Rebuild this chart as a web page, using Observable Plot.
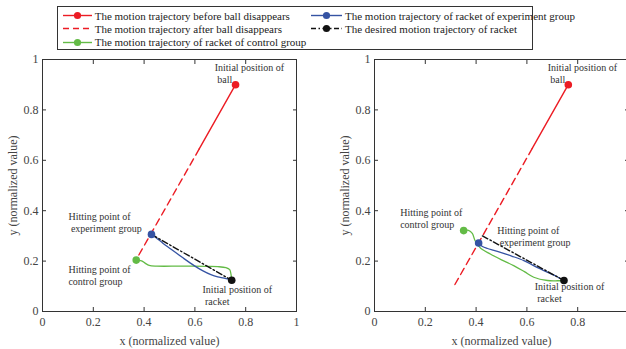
<!DOCTYPE html>
<html><head><meta charset="utf-8">
<script src="https://cdn.jsdelivr.net/npm/d3@7"></script>
<script src="https://cdn.jsdelivr.net/npm/@observablehq/plot@0.6"></script>
<style>
html,body{margin:0;padding:0;background:#fff;overflow:hidden;width:626px;height:349px}
#wrap{position:relative;width:626px;height:349px;overflow:hidden}
.p{position:absolute;top:0}
#legend{position:absolute;left:57px;top:6px;width:474px;height:42px;border:1px solid #333;background:#fff;font-family:"Liberation Serif","Times New Roman",serif;font-size:11px;color:#222}
.item{position:absolute;display:flex;align-items:center;height:13px;white-space:nowrap}
.item svg{margin-right:3px;overflow:visible}
</style></head><body><div id="wrap"></div>
<script>
// ---------- data ----------
const xTicks = [0, 0.2, 0.4, 0.6, 0.8, 1];
const yTicks = [0, 0.2, 0.4, 0.6, 0.8, 1];
const xTickLabelsLeft = ["0", "0.2", "0.4", "0.6", "0.8", "1"];
const xTickLabelsRight = ["0", "0.2", "0.4", "0.6", "0.8", ""];
const yTickLabels = ["0", "0.2", "0.4", "0.6", "0.8", "1"];

const legendLabels = [
  "The motion trajectory before ball disappears",
  "The motion trajectory after ball disappears",
  "The motion trajectory of racket of control group",
  "The motion trajectory of racket of experiment group",
  "The desired motion trajectory of racket"
];

// Left panel
const L_ballSolidX = [0.76, 0.617];
const L_ballSolidY = [0.90, 0.645];
const L_ballDashX = [0.617, 0.378];
const L_ballDashY = [0.645, 0.222];
const L_expX = [0.429, 0.446, 0.475, 0.505, 0.55, 0.597, 0.63, 0.663, 0.69, 0.715, 0.745];
const L_expY = [0.306, 0.294, 0.270, 0.248, 0.215, 0.182, 0.162, 0.146, 0.137, 0.132, 0.124];
const L_ctlX = [0.369, 0.39, 0.405, 0.42, 0.45, 0.55, 0.65, 0.69, 0.722, 0.737, 0.742, 0.745];
const L_ctlY = [0.204, 0.201, 0.191, 0.183, 0.180, 0.180, 0.179, 0.178, 0.174, 0.166, 0.148, 0.124];
const L_desX = [0.429, 0.745];
const L_desY = [0.306, 0.124];
const L_ballStart = [0.76, 0.90];
const L_expHit = [0.429, 0.306];
const L_ctlHit = [0.369, 0.204];
const L_racketStart = [0.745, 0.124];
const L_annText = ["Initial position of\n\u00a0ball", "Hitting point of\n\u00a0experiment group", "Hitting point of\ncontrol group", "Initial position of\n\u00a0racket"];
const L_annX = [0.678, 0.102, 0.102, 0.63];
const L_annY = [0.947, 0.356, 0.145, 0.066];

// Right panel
const R_ballSolidX = [0.763, 0.621];
const R_ballSolidY = [0.90, 0.647];
const R_ballDashX = [0.621, 0.316];
const R_ballDashY = [0.647, 0.106];
const R_expX = [0.41, 0.425, 0.445, 0.47, 0.496, 0.54, 0.588, 0.63, 0.68, 0.715, 0.746];
const R_expY = [0.272, 0.258, 0.250, 0.243, 0.235, 0.220, 0.202, 0.180, 0.156, 0.140, 0.123];
const R_ctlX = [0.351, 0.37, 0.385, 0.396, 0.417, 0.456, 0.50, 0.548, 0.59, 0.627, 0.681, 0.72, 0.746];
const R_ctlY = [0.321, 0.322, 0.310, 0.281, 0.252, 0.228, 0.205, 0.182, 0.158, 0.136, 0.123, 0.122, 0.123];
const R_desX = [0.425, 0.746];
const R_desY = [0.300, 0.123];
const R_ballStart = [0.763, 0.90];
const R_expHit = [0.41, 0.272];
const R_ctlHit = [0.351, 0.321];
const R_racketStart = [0.746, 0.123];
const R_annText = ["Initial position of\n\u00a0ball", "Hitting point of\ncontrol group", "Hitting point of\n\u00a0experiment group", "Initial position of\n\u00a0racket"];
const R_annX = [0.682, 0.101, 0.483, 0.631];
const R_annY = [0.947, 0.37, 0.297, 0.077];

// ---------- styles ----------
const RED = "#ec1c24", BLUE = "#3553a3", GREEN = "#63bb46", BLACK = "#111";
const FONT = "'Liberation Serif','Times New Roman',serif";
const pts = (xs, ys) => xs.map((x, i) => ({x, y: ys[i]}));

function panel(P, xLabels, geom) {
  const fmtX = d => xLabels[xTicks.indexOf(d)] ?? "";
  const fmtY = d => yTickLabels[yTicks.indexOf(d)] ?? "";
  return Plot.plot({
    width: geom.width, height: 349,
    marginLeft: geom.ml, marginRight: geom.mr, marginTop: 59, marginBottom: 38,
    style: {fontFamily: FONT, background: "transparent", overflow: "visible"},
    x: {domain: [0, 1]},
    y: {domain: [0, 1]},
    marks: [
      Plot.frame({stroke: "#333", strokeWidth: 1}),
      Plot.axisX({ticks: xTicks, tickFormat: fmtX, tickSize: -4, tickPadding: 10, fontSize: 12, color: "#444", stroke: "#333",
        label: "x (normalized value)", labelAnchor: "center", labelArrow: "none", labelOffset: 33}),
      Plot.axisX({anchor: "top", ticks: xTicks, tickFormat: () => "", tickSize: -4, stroke: "#333", label: null}),
      Plot.axisY({ticks: yTicks, tickFormat: fmtY, tickSize: -4, tickPadding: 8, fontSize: 12, color: "#444", stroke: "#333",
        label: "y (normalized value)", labelAnchor: "center", labelArrow: "none", labelOffset: 34}),
      Plot.axisY({anchor: "right", ticks: yTicks, tickFormat: () => "", tickSize: -4, stroke: "#333", label: null}),
      Plot.line(pts(P.ballSolidX, P.ballSolidY), {x: "x", y: "y", stroke: RED, strokeWidth: 1.4}),
      Plot.line(pts(P.ballDashX, P.ballDashY), {x: "x", y: "y", stroke: RED, strokeWidth: 1.4, strokeDasharray: "7,4.5"}),
      Plot.line(pts(P.ctlX, P.ctlY), {x: "x", y: "y", stroke: GREEN, strokeWidth: 1.3, curve: "catmull-rom"}),
      Plot.line(pts(P.expX, P.expY), {x: "x", y: "y", stroke: BLUE, strokeWidth: 1.3, curve: "catmull-rom"}),
      Plot.line(pts(P.desX, P.desY), {x: "x", y: "y", stroke: BLACK, strokeWidth: 1.4, strokeDasharray: "6,2.5,1.5,2.5"}),
      Plot.dot([P.ballStart], {x: d => d[0], y: d => d[1], r: 3.8, fill: RED}),
      Plot.dot([P.ctlHit], {x: d => d[0], y: d => d[1], r: 3.8, fill: GREEN}),
      Plot.dot([P.expHit], {x: d => d[0], y: d => d[1], r: 3.8, fill: BLUE}),
      Plot.dot([P.racketStart], {x: d => d[0], y: d => d[1], r: 3.8, fill: BLACK}),
      Plot.text(P.annText.map((t, i) => ({t, x: P.annX[i], y: P.annY[i]})),
        {x: "x", y: "y", text: "t", textAnchor: "start", lineAnchor: "middle", lineHeight: 1.2, fontSize: 10, fill: "#333"})
    ]
  });
}

const wrap = document.getElementById("wrap");
const left = panel({
  ballSolidX: L_ballSolidX, ballSolidY: L_ballSolidY, ballDashX: L_ballDashX, ballDashY: L_ballDashY,
  expX: L_expX, expY: L_expY, ctlX: L_ctlX, ctlY: L_ctlY, desX: L_desX, desY: L_desY,
  ballStart: L_ballStart, expHit: L_expHit, ctlHit: L_ctlHit, racketStart: L_racketStart,
  annText: L_annText, annX: L_annX, annY: L_annY
}, xTickLabelsLeft, {width: 313, ml: 42, mr: 17});
left.classList.add("p"); left.style.left = "0px";
wrap.appendChild(left);

const right = panel({
  ballSolidX: R_ballSolidX, ballSolidY: R_ballSolidY, ballDashX: R_ballDashX, ballDashY: R_ballDashY,
  expX: R_expX, expY: R_expY, ctlX: R_ctlX, ctlY: R_ctlY, desX: R_desX, desY: R_desY,
  ballStart: R_ballStart, expHit: R_expHit, ctlHit: R_ctlHit, racketStart: R_racketStart,
  annText: R_annText, annX: R_annX, annY: R_annY
}, xTickLabelsRight, {width: 316, ml: 61, mr: 1});
right.classList.add("p"); right.style.left = "313px";
wrap.appendChild(right);

// ---------- legend ----------
const legendStyles = [
  {color: RED, dash: null, marker: true},
  {color: RED, dash: "6,4", marker: false},
  {color: GREEN, dash: null, marker: true},
  {color: BLUE, dash: null, marker: true},
  {color: BLACK, dash: "5,2.5,1.5,2.5", marker: true}
];
const legendPos = [[4.7, 2], [4.7, 15.4], [4.7, 28.7], [253, 2], [253, 15.4]];
const legend = document.createElement("div");
legend.id = "legend";
legendLabels.forEach((lab, i) => {
  const s = legendStyles[i], p = legendPos[i];
  const w = i < 3 ? 29 : 31;
  const item = document.createElement("div");
  item.className = "item";
  item.style.left = p[0] + "px"; item.style.top = p[1] + "px";
  item.innerHTML = `<svg width="${w}" height="13"><line x1="0" x2="${w}" y1="6.5" y2="6.5" stroke="${s.color}" stroke-width="1.4" ${s.dash ? `stroke-dasharray="${s.dash}"` : ""}/>${s.marker ? `<circle cx="${w/2}" cy="6.5" r="3.6" fill="${s.color}"/>` : ""}</svg><span>${lab}</span>`;
  legend.appendChild(item);
});
wrap.appendChild(legend);
</script></body></html>
